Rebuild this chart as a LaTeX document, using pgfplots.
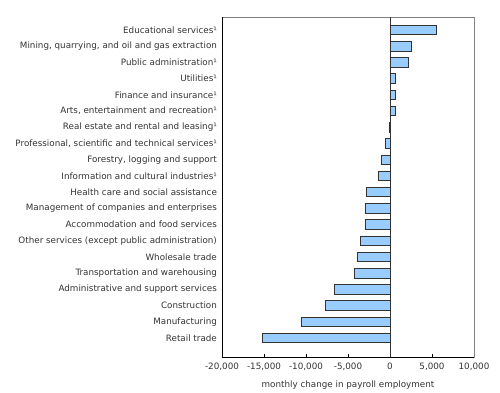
\documentclass[border=0pt]{standalone}
\usepackage{fontspec}
\setmainfont{DejaVu Sans}
\usepackage{pgfplots}
\pgfplotsset{compat=1.18}
\definecolor{barblue}{HTML}{99CCFF}
\definecolor{framegray}{HTML}{808080}
\begin{document}
\fontsize{8.8pt}{10pt}\selectfont
\begin{tikzpicture}
\begin{axis}[
  scale only axis,
  width=252bp, height=340bp,
  xmin=-20000, xmax=10000,
  ymin=-1.17, ymax=19.8,
  xbar, bar width=9.5bp, bar shift=0pt,
  xtick={-20000,-15000,-10000,-5000,0,5000,10000},
  scaled x ticks=false,
  /pgf/number format/1000 sep={,},
  /pgf/number format/assume math mode=true,
  ytick={0,...,19},
  yticklabels={Retail trade, Manufacturing, Construction, Administrative and support services, Transportation and warehousing, Wholesale trade, Other services (except public administration), Accommodation and food services, Management of companies and enterprises, Health care and social assistance, Information and cultural industries¹, {Forestry, logging and support}, {Professional, scientific and technical services¹}, Real estate and rental and leasing¹, {Arts, entertainment and recreation¹}, Finance and insurance¹, Utilities¹, Public administration¹, {Mining, quarrying, and oil and gas extraction}, Educational services¹},
  ytick style={draw=none},
  xtick style={draw=black, thin},
  tick align=inside,
  xtick pos=bottom,
  major tick length=3bp,
  axis line style={framegray},
  xlabel={monthly change in payroll employment},
  xlabel style={yshift=-4bp},
  ticklabel style={font=\fontsize{8.8pt}{10pt}\selectfont, text=black!80},
  label style={font=\fontsize{8.8pt}{10pt}\selectfont, text=black!80},
  xticklabel style={yshift=-3bp},
  yticklabel style={xshift=-2bp},
  clip=false,
]
\addplot[fill=barblue, draw=black!80, line width=0.8pt] coordinates {
  (-15200,0) (-10600,1) (-7700,2) (-6600,3) (-4200,4) (-3900,5) (-3500,6) (-2900,7) (-2950,8) (-2800,9) (-1350,10) (-1070,11) (-550,12) (-120,13) (600,14) (650,15) (700,16) (2200,17) (2500,18) (5500,19)
};
\draw[black!80, line width=0.6pt] (axis cs:0,-1.17) -- (axis cs:0,19.8);
\draw[black, line width=0.6pt] (rel axis cs:0,0) -- (rel axis cs:1,0);
\draw[black, line width=0.6pt] (rel axis cs:0,0) -- (rel axis cs:0,1);
\end{axis}
\path (current axis.south west) ++(-222bp,-35bp) coordinate (bl);
\useasboundingbox (bl) rectangle ++(500bp,392bp);
\end{tikzpicture}
\end{document}
